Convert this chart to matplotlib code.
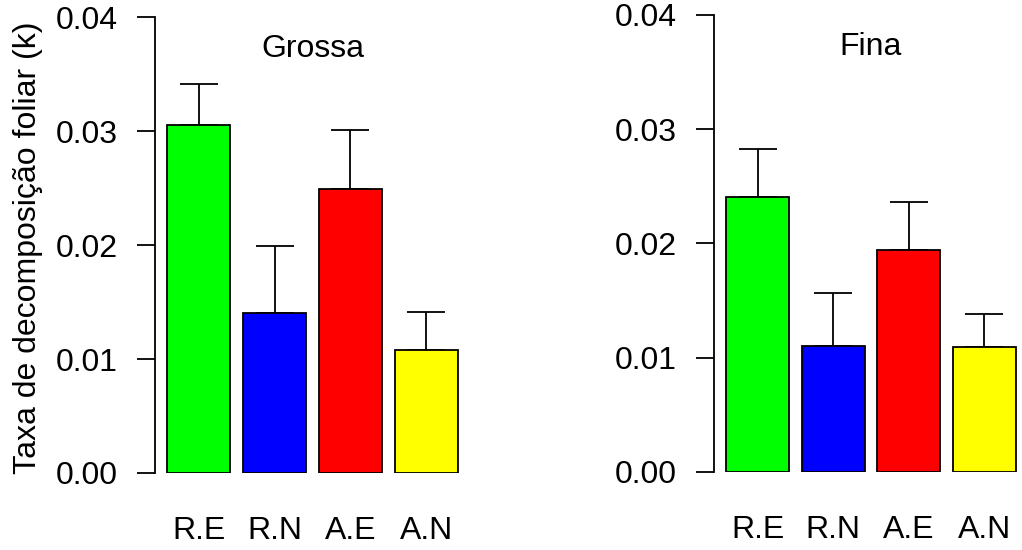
import matplotlib
matplotlib.use("Agg")
import matplotlib.pyplot as plt

# --------------------------
# data
# --------------------------
categories = ["R.E", "R.N", "A.E", "A.N"]
colors = ["#00ff00", "#0000ff", "#ff0000", "#ffff00"]

grossa_mean = [0.0305, 0.0140, 0.0249, 0.0108]
grossa_se = [0.0036, 0.0059, 0.0052, 0.0033]

fina_mean = [0.0241, 0.0110, 0.0194, 0.0109]
fina_se = [0.0042, 0.0047, 0.0042, 0.0029]

titles = ["Grossa", "Fina"]
ylabel = "Taxa de decomposição foliar (k)"
yticks = [0.00, 0.01, 0.02, 0.03, 0.04]
ytick_labels = ["0.00", "0.01", "0.02", "0.03", "0.04"]

plt.rcParams["font.family"] = ["Liberation Sans", "DejaVu Sans"]
FS = 23

# R barplot style positions: width 1, space 0.2
xpos = [0.7 + 1.2 * i for i in range(len(categories))]

fig = plt.figure(figsize=(10.22, 5.5), dpi=100)
ax1 = fig.add_axes([0.1521, 0.140, 0.3074, 0.829])
ax2 = fig.add_axes([0.6990, 0.142, 0.3065, 0.831])

for ax, means, errs, title in [(ax1, grossa_mean, grossa_se, titles[0]),
                               (ax2, fina_mean, fina_se, titles[1])]:
    ax.errorbar(xpos, means, yerr=[[0] * len(errs), errs], fmt="none",
                ecolor="black", elinewidth=1.3, capsize=13.5, capthick=1.3,
                zorder=1)
    ax.bar(xpos, means, width=1.0, color=colors, edgecolor="black",
           linewidth=1.3, zorder=2)
    ax.set_xlim(0.016, 4.984)
    ax.set_ylim(0, 0.04)
    ax.set_xticks(xpos)
    ax.set_xticklabels(categories, fontsize=FS)
    ax.set_yticks(yticks)
    ax.set_yticklabels(ytick_labels, fontsize=FS)
    ax.tick_params(axis="x", length=0, pad=31)
    ax.tick_params(axis="y", direction="out", length=13, width=1.3, pad=14)
    for s in ["top", "right", "bottom"]:
        ax.spines[s].set_visible(False)
    ax.spines["left"].set_linewidth(1.3)
    ax.spines["left"].set_bounds(0, 0.04)
    ax.text(0.5, 0.93, title, transform=ax.transAxes, ha="center",
            va="center", fontsize=FS)
    ax.patch.set_visible(False)

fig.text(0.027, 0.550, ylabel, rotation=90, ha="center", va="center",
         fontsize=FS)

fig.savefig("out.png", dpi=100)
